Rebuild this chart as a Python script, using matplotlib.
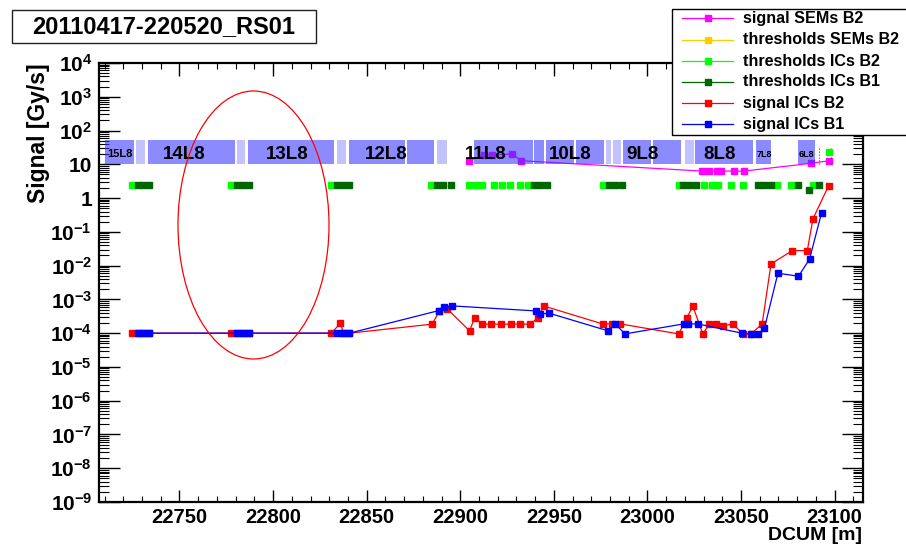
import matplotlib
matplotlib.use("Agg")
import matplotlib.pyplot as plt
from matplotlib.patches import Rectangle, Ellipse
from matplotlib.lines import Line2D
from matplotlib.ticker import FixedLocator, MultipleLocator, FuncFormatter, NullFormatter
import numpy as np

plt.rcParams['font.family'] = ['Liberation Sans', 'DejaVu Sans']
plt.rcParams['font.weight'] = 'bold'
plt.rcParams['mathtext.default'] = 'regular'

# ---------------- data ----------------
title = "20110417-220520_RS01"

# signal ICs B2 (red)
ic_b2_dcum = [22724.7, 22727.9, 22730.6, 22733.8, 22777.7, 22780.9, 22784.1, 22787.3,
              22831.2, 22836.0, 22837.6, 22840.8,
              22885.1, 22888.6, 22893.1, 22905.0, 22907.7, 22911.8, 22916.6, 22921.6,
              22926.9, 22932.0, 22937.1, 22941.6, 22944.5,
              22976.0, 22981.0, 22985.5,
              23016.7, 23021.2, 23024.2, 23029.6, 23033.1, 23036.7, 23040.3, 23045.6,
              23051.0, 23055.4, 23061.3, 23066.0, 23077.4, 23085.4, 23088.4, 23096.8]
ic_b2_signal = [1e-4, 1e-4, 1e-4, 1e-4, 1e-4, 1e-4, 1e-4, 1e-4,
                1e-4, 2e-4, 1e-4, 1e-4,
                1.85e-4, 4.4e-4, 5.2e-4, 1.17e-4, 2.9e-4, 1.85e-4, 1.85e-4, 1.85e-4,
                1.85e-4, 1.85e-4, 1.85e-4, 2.8e-4, 6.4e-4,
                1.88e-4, 1.88e-4, 1.88e-4,
                0.95e-4, 2.9e-4, 6.4e-4, 0.95e-4, 1.88e-4, 1.88e-4, 1.64e-4, 1.88e-4,
                0.95e-4, 0.95e-4, 1.88e-4, 1.12e-2, 2.78e-2, 2.78e-2, 0.241, 2.33]

# signal ICs B1 (blue)
ic_b1_dcum = [22727.9, 22730.6, 22733.8, 22780.9, 22784.1, 22787.3, 22834.4, 22837.6, 22840.8,
              22888.6, 22891.3, 22895.4, 22940.2, 22942.7, 22947.5, 22979.0, 22982.8, 22988.0,
              23019.4, 23021.9, 23026.9, 23050.4, 23055.4, 23059.3, 23062.5, 23069.7,
              23080.7, 23086.6, 23093.0]
ic_b1_signal = [1e-4, 1e-4, 1e-4, 1e-4, 1e-4, 1e-4, 1e-4, 1e-4, 1e-4,
                4.67e-4, 5.87e-4, 6.43e-4, 4.56e-4, 3.7e-4, 3.9e-4, 1.17e-4, 1.88e-4, 0.95e-4,
                1.88e-4, 1.88e-4, 1.88e-4, 1.0e-4, 0.95e-4, 0.95e-4, 1.4e-4, 5.95e-3,
                4.85e-3, 1.55e-2, 0.362]

# signal SEMs B2 (magenta)
sem_b2_dcum = [22904.7, 22912.7, 22917.2, 22927.9, 22932.3,
               23029.2, 23033.1, 23037.0, 23039.4, 23046.2, 23051.5, 23087.5, 23097.0]
sem_b2_signal = [12.8, 18.8, 18.8, 20.2, 12.8,
                 6.3, 6.3, 6.3, 6.3, 6.3, 6.3, 10.7, 12.8]

# thresholds
thr_sem_b2_dcum = []
thr_sem_b2_value = []

thr_ic_b2_dcum = [22724.7, 22777.7, 22831.2, 22884.4, 22904.5, 22908.3, 22911.5, 22917.9,
                  22922.2, 22926.5, 22931.8, 22936.1, 22976.2, 23016.6, 23030.2, 23034.5,
                  23037.7, 23044.7, 23051.1, 23069.3, 23076.8, 23088.6, 23097.0]
thr_ic_b2_value = [2.4] * 22 + [23.5]

thr_ic_b1_dcum = [22727.9, 22730.6, 22733.8, 22780.9, 22784.1, 22787.3, 22834.4, 22837.6,
                  22840.8, 22887.6, 22890.8, 22895.1, 22939.3, 22942.5, 22946.3, 22979.5,
                  22982.7, 22986.4, 23019.0, 23022.2, 23025.9, 23059.1, 23062.3, 23066.1,
                  23080.6, 23086.5, 23091.8]
thr_ic_b1_value = [2.4] * 25 + [1.74, 2.4]

# magnet elements band
element_start = [22710.2, 22726.7, 22733.4, 22748.6, 22763.8, 22780.7, 22786.6, 22802.1,
                 22817.3, 22834.2, 22840.4, 22855.5, 22871.3, 22887.8, 22907.3, 22923.2,
                 22939.3, 22945.7, 22961.8, 22977.9, 22981.4, 22986.8, 23002.8, 23019.9,
                 23025.2, 23042.4, 23058.1, 23062.4, 23080.4, 23084.9]
element_end = [22725.9, 22731.6, 22748.6, 22763.8, 22779.4, 22785.2, 22802.1, 22817.3,
               22832.4, 22838.8, 22855.5, 22870.7, 22886.0, 22893.1, 22923.2, 22938.6,
               22944.7, 22960.7, 22976.8, 22980.6, 22985.9, 23002.0, 23018.1, 23024.7,
               23042.4, 23056.3, 23062.4, 23066.1, 23084.9, 23089.3]
element_solid = [1, 0, 1, 1, 1, 0, 1, 1,
                 1, 0, 1, 1, 1, 0, 1, 1,
                 1, 1, 1, 0, 0, 1, 1, 0,
                 1, 1, 1, 1, 1, 1]
band_low, band_high = 10.0, 52.0

cell_names = ["15L8", "14L8", "13L8", "12L8", "11L8", "10L8", "9L8", "8L8", "7L8", "6L8"]
cell_dcum = [22718.3, 22752.7, 22807.5, 22860.6, 22913.4, 22958.5, 22997.6, 23038.3, 23062.4, 23084.7]
cell_size = [8, 13.5, 13.5, 13.5, 13.5, 13.5, 13.5, 13.5, 6.5, 6.5]
cell_label_y = 20.0

marker_dcum = [23091.8, 23098.2]

x_min, x_max = 22707, 23115
y_exponents = list(range(-9, 5))

# ---------------- figure ----------------
W, H = 906, 545
fig = plt.figure(figsize=(W / 100, H / 100), dpi=100)
fig.patch.set_facecolor('white')


def fx(px):
    return px / W


def fy(py):
    return 1 - py / H


ax = fig.add_axes([fx(99), fy(502), (862.7 - 99) / W, (502 - 63) / H])
ax.set_yscale('log')
ax.set_xlim(x_min, x_max)
ax.set_ylim(10.0 ** y_exponents[0], 10.0 ** y_exponents[-1])

C_SEM = '#ff00ff'
C_THR_SEM = '#ffcc00'
C_THR_B2 = '#00ff00'
C_THR_B1 = '#006600'
C_B2 = '#ff0000'
C_B1 = '#0000ff'
ms = 4.6
lw = 0.9

ax.plot(sem_b2_dcum, sem_b2_signal, color=C_SEM, lw=lw, marker='s', ms=ms, zorder=2)
ax.plot(thr_sem_b2_dcum, thr_sem_b2_value, color=C_THR_SEM, ls='none', marker='s', ms=ms, zorder=4)
ax.plot(thr_ic_b2_dcum, thr_ic_b2_value, color=C_THR_B2, ls='none', marker='s', ms=ms, zorder=4)
ax.plot(thr_ic_b1_dcum, thr_ic_b1_value, color=C_THR_B1, ls='none', marker='s', ms=ms, zorder=4.2)
ax.plot(ic_b2_dcum, ic_b2_signal, color=C_B2, lw=lw, marker='s', ms=ms, zorder=4.5)
ax.plot(ic_b1_dcum, ic_b1_signal, color=C_B1, lw=lw, marker='s', ms=ms, zorder=5)

# element band
for s, e, solid in zip(element_start, element_end, element_solid):
    ax.add_patch(Rectangle((s, band_low), e - s, band_high - band_low,
                           facecolor=(0.22, 0.22, 1.0), alpha=0.58 if solid else 0.3,
                           edgecolor='none', zorder=3))
ax.vlines(marker_dcum, 10, 30, colors='red', linestyles=':', lw=0.8, zorder=3)
for name, xc, fs in zip(cell_names, cell_dcum, cell_size):
    ax.text(xc, cell_label_y, name, ha='center', va='center', fontsize=fs,
            fontweight='bold', color='black', zorder=6)

# axes styling
for sp in ax.spines.values():
    sp.set_linewidth(1.6)
ax.xaxis.set_major_locator(MultipleLocator(50))
ax.xaxis.set_minor_locator(MultipleLocator(10))
ax.yaxis.set_major_locator(FixedLocator([10.0 ** e for e in y_exponents]))
ax.yaxis.set_minor_locator(FixedLocator([m * 10.0 ** e for e in y_exponents[:-1]
                                         for m in range(2, 10)]))
ax.yaxis.set_minor_formatter(NullFormatter())


def ylab(v, pos):
    e = int(round(np.log10(v)))
    if e == 0:
        return "1"
    if e == 1:
        return "10"
    return "10$^{%d}$" % e


ax.yaxis.set_major_formatter(FuncFormatter(ylab))
ax.xaxis.set_major_formatter(FuncFormatter(lambda v, p: "%d" % v))
ax.tick_params(axis='both', which='both', direction='in', top=True, right=True)
ax.tick_params(axis='y', which='major', length=15, width=1.0, pad=5, labelsize=15)
ax.tick_params(axis='y', which='minor', length=7.5, width=0.8)
ax.tick_params(axis='x', which='major', length=9, width=1.0, pad=4, labelsize=14.5)
ax.tick_params(axis='x', which='minor', length=4.5, width=0.8)
for lab in ax.get_xticklabels() + ax.get_yticklabels():
    lab.set_fontweight('bold')

fig.text(fx(39), fy(63), "Signal [Gy/s]", rotation=90, ha='center', va='top',
         fontsize=16.5, fontweight='bold')
fig.text(fx(862), fy(535), "DCUM [m]", ha='right', va='center',
         fontsize=14, fontweight='bold')

# title box
fig.add_artist(Rectangle((fx(12), fy(43)), (316 - 12) / W, (43 - 10) / H,
                         transform=fig.transFigure, facecolor='white',
                         edgecolor='#222222', lw=1.0, zorder=10))
fig.text(fx(164), fy(27), title, ha='center', va='center', fontsize=17,
         fontweight='bold', zorder=11)

# annotation ellipse
fig.add_artist(Ellipse((fx(253.5), fy(225)), 151 / W, 268 / H, transform=fig.transFigure,
                       fill=False, edgecolor='red', lw=0.9, zorder=8))

# legend
fig.add_artist(Rectangle((fx(672), fy(135)), (912 - 672) / W, (135 - 9) / H,
                         transform=fig.transFigure, facecolor='white',
                         edgecolor='black', lw=1.0, zorder=10))
legend_entries = [("signal SEMs B2", C_SEM), ("thresholds SEMs B2", C_THR_SEM),
                  ("thresholds ICs B2", C_THR_B2), ("thresholds ICs B1", C_THR_B1),
                  ("signal ICs B2", C_B2), ("signal ICs B1", C_B1)]
row_y = [18, 40, 61, 82, 103, 124]
for (lab, col), py in zip(legend_entries, row_y):
    fig.add_artist(Line2D([fx(682), fx(733)], [fy(py), fy(py)], transform=fig.transFigure,
                          color=col, lw=lw, zorder=11))
    fig.add_artist(Line2D([fx(707.5)], [fy(py)], transform=fig.transFigure, color=col,
                          marker='s', ms=ms, zorder=12))
    fig.text(fx(743), fy(py), lab, ha='left', va='center', fontsize=11.6,
             fontweight='bold', zorder=12)

fig.savefig("out.png", dpi=100)
